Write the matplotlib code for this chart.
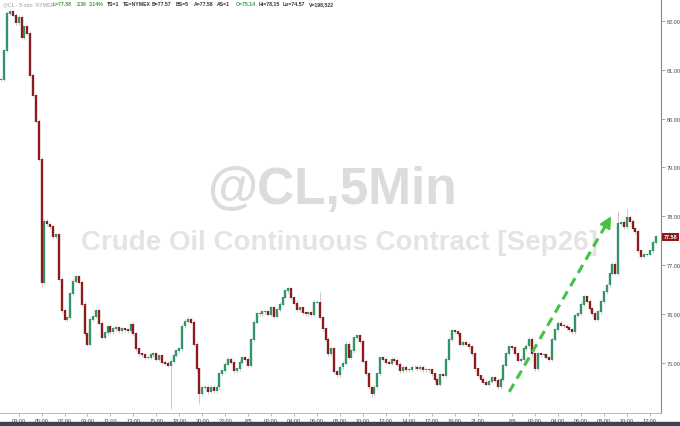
import matplotlib
matplotlib.use("Agg")
import matplotlib.pyplot as plt
import matplotlib.transforms as mtransforms
from matplotlib.patches import Rectangle

# 15-minute closes, first bar at 8/4 01:30
first_open = 80.80
closes = [
    80.81, 81.39, 82.16, 82.20, 82.12, 81.96, 82.08, 81.67, 81.88, 81.75,
    80.89, 80.48, 79.95, 79.17, 76.65, 77.90, 77.84, 77.78, 77.58, 77.62,
    76.71, 76.06, 75.89, 75.93, 76.41, 76.67, 76.77, 76.65, 76.20, 75.59,
    75.38, 75.89, 75.95, 76.06, 75.81, 75.52, 75.61, 75.73, 75.63, 75.69,
    75.71, 75.65, 75.69, 75.67, 75.65, 75.79, 75.59, 75.28, 75.18, 75.16,
    75.11, 75.11, 75.16, 75.18, 75.07, 75.14, 75.01, 74.99, 74.95, 75.03,
    75.14, 75.24, 75.28, 75.75, 75.85, 75.89, 75.83, 75.38, 74.87, 74.36,
    74.48, 74.50, 74.40, 74.50, 74.42, 74.50, 74.77, 74.83, 74.97, 75.07,
    75.01, 74.83, 74.87, 75.01, 75.11, 75.07, 74.95, 75.48, 75.83, 76.00,
    76.00, 76.04, 76.04, 75.98, 76.12, 75.95, 76.08, 76.20, 76.34, 76.47,
    76.51, 76.34, 76.22, 76.08, 76.12, 76.02, 76.00, 76.02, 75.98, 76.24,
    76.24, 75.93, 75.69, 75.48, 75.18, 75.28, 74.81, 74.75, 74.91, 74.99,
    75.38, 75.11, 75.24, 75.52, 75.55, 75.44, 75.03, 74.77, 74.50, 74.36,
    74.50, 74.77, 75.11, 75.07, 75.01, 74.99, 75.07, 75.05, 74.97, 74.83,
    74.91, 74.85, 74.85, 74.91, 74.91, 74.87, 74.91, 74.85, 74.85, 74.85,
    74.77, 74.66, 74.56, 74.75, 74.73, 75.07, 75.48, 75.65, 75.63, 75.59,
    75.38, 75.42, 75.38, 75.32, 75.18, 74.87, 74.73, 74.66, 74.60, 74.56,
    74.62, 74.70, 74.64, 74.50, 74.66, 74.95, 75.18, 75.32, 75.30, 75.18,
    75.05, 75.07, 75.28, 75.34, 75.48, 75.18, 74.87, 75.18, 75.16, 75.16,
    75.11, 75.07, 75.48, 75.67, 75.81, 75.77, 75.75, 75.71, 75.67, 75.63,
    75.97, 76.00, 76.20, 76.36, 76.26, 76.10, 76.00, 75.89, 76.04, 76.26,
    76.45, 76.59, 76.82, 77.02, 76.82, 77.86, 77.88, 77.78, 77.98, 77.90,
    77.74, 77.68, 77.29, 77.18, 77.22, 77.22, 77.29, 77.47, 77.58,
]

# long wicks that stand out
spike_bars = [14, 59, 69, 111, 129, 215, 218]
spike_prices = [76.55, 74.05, 74.15, 76.45, 74.30, 78.10, 78.15]

tick_labels = ["03:00", "05:00", "07:00", "09:00", "11:00", "13:00", "15:00", "18:00",
               "20:00", "22:00", "8/5", "02:00", "04:00", "06:00", "08:00", "10:00",
               "12:00", "14:00", "17:00", "19:00", "21:00", "8/6", "02:00", "04:00",
               "06:00", "08:00", "10:00", "12:00"]
tick_days = [4, 4, 4, 4, 4, 4, 4, 4, 4, 4, 5, 5, 5, 5, 5, 5, 5, 5, 5, 5, 5, 6, 6, 6, 6, 6, 6, 6]
tick_hours = [3, 5, 7, 9, 11, 13, 15, 18, 20, 22, 0, 2, 4, 6, 8, 10, 12, 14, 17, 19, 21,
              0, 2, 4, 6, 8, 10, 12]

y_ticks = [75, 76, 77, 78, 79, 80, 81, 82]
last_price = 77.58
arrow_start = (177, 74.40)
arrow_end = (213, 78.05)

header = [("@CL - 5 min  NYMEX", "#b8b8b8", 3), ("L=77.58", "#3c9a3c", 53),
          ("2.36", "#3c9a3c", 77), ("3.14%", "#3c9a3c", 89), ("TS=1", "#333333", 107),
          ("TE=NYMEX", "#333333", 123), ("B=77.57", "#333333", 152), ("BS=5", "#333333", 176),
          ("A=77.58", "#333333", 194), ("AS=1", "#333333", 217), ("O=75.14", "#3c9a3c", 236),
          ("Hi=78.15", "#333333", 259), ("Lo=74.57", "#333333", 283), ("V=198,522", "#333333", 309)]


def bar_index(day, hour):
    # 15 min bars from 8/4 01:30, skipping the daily 16:00-17:00 break
    raw = (day - 4) * 1440 + hour * 60 - 90
    minutes = raw
    for d in (4, 5):
        if raw >= (d - 4) * 1440 + 17 * 60 - 90:
            minutes -= 60
    return minutes / 15


plt.rcParams['font.family'] = ['Liberation Sans', 'DejaVu Sans']

W, H = 680, 427
fig = plt.figure(figsize=(W / 100, H / 100), dpi=100)
ax = fig.add_axes([0, 13 / H, 661 / W, 1 - 13 / H])

up_col = '#33936a'
down_col = '#8c1c1c'
wick_col = '#b4b4b4'
pad = 0.035

opens = [first_open] + closes[:-1]
xs = list(range(len(closes)))
highs = [max(o, c) + pad for o, c in zip(opens, closes)]
lows = [min(o, c) - pad for o, c in zip(opens, closes)]
for b, p in zip(spike_bars, spike_prices):
    if p > closes[b]:
        highs[b] = p
    else:
        lows[b] = p

ax.vlines(xs, lows, highs, color=wick_col, lw=0.5, zorder=2)
ups = [i for i in xs if closes[i] >= opens[i]]
downs = [i for i in xs if closes[i] < opens[i]]
ax.vlines(ups, [opens[i] - 0.01 for i in ups], [closes[i] + 0.01 for i in ups],
          color=up_col, lw=1.7, zorder=3)
ax.vlines(downs, [opens[i] + 0.01 for i in downs], [closes[i] - 0.01 for i in downs],
          color=down_col, lw=1.7, zorder=3)

# dashed green trend arrow
ax.plot([arrow_start[0], arrow_end[0] - 1.2], [arrow_start[1], arrow_end[1] - 0.12],
        color='#45c145', lw=2.2, ls=(0, (3, 2)), zorder=4)
ax.annotate('', xy=arrow_end, xytext=(arrow_end[0] - 2.5, arrow_end[1] - 0.26),
            arrowprops=dict(arrowstyle='-|>,head_length=0.7,head_width=0.35',
                            color='#45c145', lw=1.5), zorder=4)

# watermark
ax.text(0.502, 0.539, "@CL,5Min", transform=ax.transAxes, ha='center', va='center',
        fontsize=37, fontweight='bold', color='#dcdcdc', zorder=0)
ax.text(0.513, 0.413, "Crude Oil Continuous Contract [Sep26]", transform=ax.transAxes,
        ha='center', va='center', fontsize=20, fontweight='bold', color='#e4e4e4', zorder=0)

ax.set_xlim(-0.5, 661 / 2.875)
ax.set_ylim(82 - 392 / 48.8, 82 + 22 / 48.8)

for s in ['top', 'left']:
    ax.spines[s].set_visible(False)
ax.spines['right'].set_color('#8a8a8a')
ax.spines['bottom'].set_color('#b0b0b0')
ax.spines['right'].set_linewidth(0.8)
ax.spines['bottom'].set_linewidth(0.6)

ax.yaxis.tick_right()
ax.set_yticks(y_ticks)
ax.set_yticklabels([f"{v:.2f}" for v in y_ticks])
ax.tick_params(axis='y', length=3, width=0.5, color='#888888', labelsize=4,
               labelcolor='#444444', pad=1)

ax.set_xticks([bar_index(d, h) for d, h in zip(tick_days, tick_hours)])
ax.set_xticklabels(tick_labels)
ax.tick_params(axis='x', length=2, width=0.5, color='#999999', labelsize=4,
               labelcolor='#444444', pad=1.5)

# last price tag
trans = mtransforms.blended_transform_factory(ax.transAxes, ax.transData)
ax.text(1.004, last_price, f"{last_price:.2f}", transform=trans, ha='left', va='center',
        fontsize=4, color='white', fontweight='bold', clip_on=False,
        bbox=dict(boxstyle='square,pad=0.25', fc='#8b1a1a', ec='none'))

for txt, col, px in header:
    fig.text(px / W, 1 - 5 / H, txt, color=col, fontsize=3.7, fontweight='bold',
             ha='left', va='center')

fig.patches.append(Rectangle((0, 0), 1, 4 / H, transform=fig.transFigure,
                             color='#3c4350', zorder=0))

fig.savefig('out.png', dpi=100)
